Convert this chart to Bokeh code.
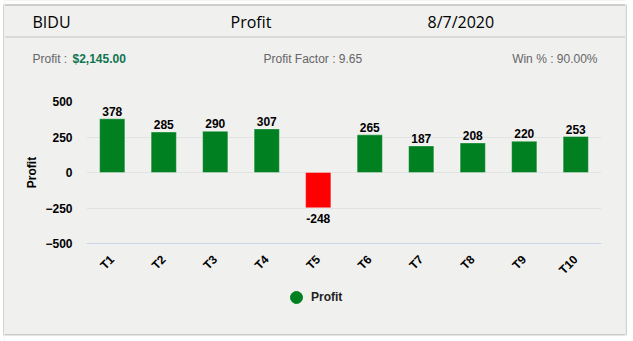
import math
from bokeh.plotting import figure
from bokeh.layouts import row, column
from bokeh.models import FixedTicker, Legend, LegendItem, ColumnDataSource, Range1d
from bokeh.core.properties import value
from bokeh.embed import file_html
from bokeh.resources import INLINE

# ---- data ----
trades = ["T1", "T2", "T3", "T4", "T5", "T6", "T7", "T8", "T9", "T10"]
profits = [378, 285, 290, 307, -248, 265, 187, 208, 220, 253]
y_ticks = [-500, -250, 0, 250, 500]
symbol = "BIDU"
chart_title = "Profit"
date_text = "8/7/2020"
total_profit = "$2,145.00"
profit_factor = "9.65"
win_pct = "90.00%"
series_name = "Profit"

GREEN = "#008020"
RED = "#ff0000"
CARD = "#f0f0ef"
BORDER = "#a6a6a6"
SEP = "#c4c4c4"

W, H = 633, 341
CL, CR, CT, CB = 3, 625, 4, 334      # card edges (page pixels)
HEAD_H = 80
CHART_BOTTOM = 285
FL, FR, FT, FB = 86, 601, 101, 243   # plot frame (page pixels)


def pixel_fig(x0, w, y0, h, bg):
    f = figure(width=w, height=h, x_range=Range1d(x0, x0 + w), y_range=Range1d(y0 + h, y0),
               x_axis_type=None, y_axis_type=None, min_border=0,
               output_backend="svg", toolbar_location=None, frame_align=False)
    f.background_fill_color = bg
    f.border_fill_color = bg
    f.outline_line_color = None
    f.xgrid.visible = False
    f.ygrid.visible = False
    return f


# ---- side strips (card left / right borders) ----
left = pixel_fig(0, CL + 1, 0, H, "white")
left.quad(left=[CL], right=[CL + 1], top=[CT], bottom=[CB + 1], fill_color=BORDER, line_color=None)
right = pixel_fig(CR, W - CR, 0, H, "white")
right.quad(left=[CR], right=[CR + 1], top=[CT], bottom=[CB + 1], fill_color=BORDER, line_color=None)

MW = CR - (CL + 1)
MX = CL + 1

# ---- header ----
head = pixel_fig(MX, MW, 0, HEAD_H, CARD)
head.quad(left=[MX], right=[CR], top=[0], bottom=[CT], fill_color="white", line_color=None)
head.quad(left=[MX], right=[CR], top=[CT], bottom=[CT + 1], fill_color=BORDER, line_color=None)
head.quad(left=[MX], right=[CR], top=[36], bottom=[37], fill_color=SEP, line_color=None)
head.text(x=[32, 230, 427], y=[21, 21, 21], text=[symbol, chart_title, date_text],
          text_font=value("Open Sans"), text_font_size="16px", text_color="black",
          text_baseline="middle", text_align="left")
head.text(x=[32], y=[58], text=["Profit : "], text_font=value("Liberation Sans"),
          text_font_size="12px", text_color="#666666", text_baseline="middle")
head.text(x=[72], y=[58], text=[total_profit], text_font=value("Liberation Sans"),
          text_font_size="12px", text_color="#0f7550", text_font_style="bold",
          text_baseline="middle")
head.text(x=[263], y=[58], text=["Profit Factor : " + profit_factor],
          text_font=value("Liberation Sans"), text_font_size="12px", text_color="#666666",
          text_baseline="middle")
head.text(x=[597], y=[58], text=["Win % : " + win_pct], text_font=value("Liberation Sans"),
          text_font_size="12px", text_color="#666666", text_baseline="middle",
          text_align="right")

# ---- chart ----
colors = [GREEN if v >= 0 else RED for v in profits]
pos_lab = [str(v) if v >= 0 else "" for v in profits]
neg_lab = [str(v) if v < 0 else "" for v in profits]
src = ColumnDataSource(dict(x=trades, y=profits, c=colors, pl=pos_lab, nl=neg_lab))

p = figure(width=MW, height=CHART_BOTTOM - HEAD_H, x_range=trades, y_range=Range1d(-500, 500),
           output_backend="svg", toolbar_location=None, frame_align=False,
           min_border_left=FL - MX, min_border_right=CR - FR,
           min_border_top=FT - HEAD_H, min_border_bottom=CHART_BOTTOM - FB)
p.border_fill_color = CARD
p.background_fill_color = CARD
p.outline_line_color = None

p.vbar(x="x", top="y", bottom=0, width=0.49, source=src, fill_color="c",
       line_color="white", line_alpha=0.35, line_width=1)
p.text(x="x", y="y", text="pl", source=src, text_align="center", text_baseline="bottom",
       y_offset=-3, text_font=value("Liberation Sans"), text_font_style="bold",
       text_font_size="12px", text_color="black")
p.text(x="x", y="y", text="nl", source=src, text_align="center", text_baseline="top",
       y_offset=6, text_font=value("Liberation Sans"), text_font_style="bold",
       text_font_size="12px", text_color="black")

p.yaxis.ticker = FixedTicker(ticks=y_ticks)
p.yaxis.axis_line_color = None
p.yaxis.major_tick_line_color = None
p.yaxis.minor_tick_line_color = None
p.yaxis.major_label_text_font = "Liberation Sans"
p.yaxis.major_label_text_font_style = "bold"
p.yaxis.major_label_text_font_size = "12px"
p.yaxis.major_label_text_color = "black"
p.yaxis.major_label_standoff = 8
p.yaxis.axis_label = series_name
p.yaxis.axis_label_text_font = "Liberation Sans"
p.yaxis.axis_label_text_font_style = "bold"
p.yaxis.axis_label_text_font_size = "12px"
p.yaxis.axis_label_text_color = "black"
p.yaxis.axis_label_standoff = 3

p.xaxis.axis_line_color = "#ccd6eb"
p.xaxis.major_tick_line_color = None
p.xaxis.minor_tick_line_color = None
p.xaxis.major_label_orientation = math.pi / 4
p.xaxis.major_label_text_font = "Liberation Sans"
p.xaxis.major_label_text_font_style = "bold"
p.xaxis.major_label_text_font_size = "12px"
p.xaxis.major_label_text_color = "black"
p.xaxis.major_label_standoff = 8

p.xgrid.grid_line_color = None
p.ygrid.grid_line_color = "#e3e3e3"
p.ygrid.grid_line_width = 1

# ---- legend ----
LEG_H = H - CHART_BOTTOM
leg = pixel_fig(MX, MW, CHART_BOTTOM, LEG_H, CARD)
leg.quad(left=[MX], right=[CR], top=[CB], bottom=[CB + 1], fill_color=BORDER, line_color=None)
leg.quad(left=[MX], right=[CR], top=[CB + 1], bottom=[H], fill_color="white", line_color=None)
dummy = leg.scatter(x=[float("nan")], y=[float("nan")], marker="circle", size=12,
                    fill_color=GREEN, line_color=GREEN)
cx, cy = 296, 297
legend = Legend(items=[LegendItem(label=series_name, renderers=[dummy])],
                location=(cx - MX - 15, (CHART_BOTTOM + LEG_H - cy) - 15),
                orientation="horizontal",
                glyph_width=30, glyph_height=30, label_standoff=0,
                padding=0, margin=0, spacing=0,
                border_line_color=None, background_fill_alpha=0,
                label_text_font="Liberation Sans", label_text_font_style="bold",
                label_text_font_size="12px", label_text_color="#222222")
leg.add_layout(legend)

mid = column(head, p, leg, spacing=0, styles={"background-color": CARD})
layout = row(left, mid, right, spacing=0)
open("out.html", "w").write(file_html(layout, INLINE))
